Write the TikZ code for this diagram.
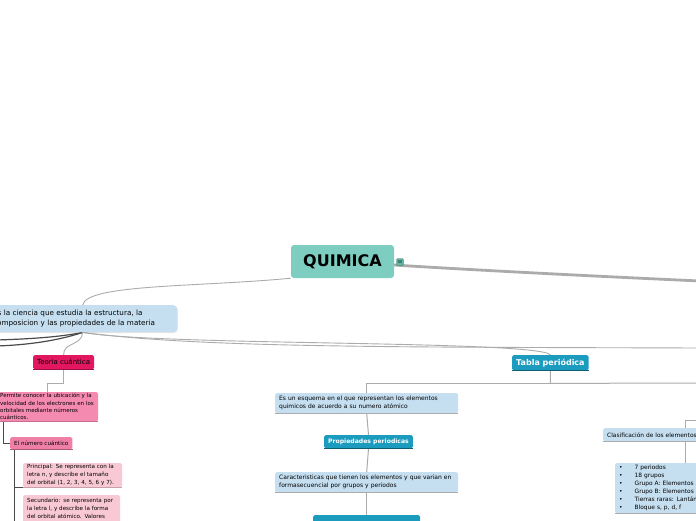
\documentclass[tikz,border=0pt]{standalone}
\usepackage{fontspec}
\setmainfont{DejaVu Sans}
\usepackage{tikz}
\usetikzlibrary{positioning,backgrounds,shadows}

\definecolor{rootteal}{HTML}{7DCEC1}
\definecolor{notegreen}{HTML}{5FB8A8}
\definecolor{paleblue}{HTML}{C5DFF1}
\definecolor{crimson}{HTML}{E2175F}
\definecolor{pinkmid}{HTML}{F48AB0}
\definecolor{pinknum}{HTML}{F07FA8}
\definecolor{pinklight}{HTML}{F9C8D5}
\definecolor{tealblue}{HTML}{1B9CBF}
\definecolor{linegray}{HTML}{ABABAB}
\definecolor{linedark}{HTML}{4A4A4A}

\begin{document}
\begin{tikzpicture}[x=1pt, y=-1pt,
  rootbox/.style={rounded corners=3pt, fill=rootteal, font=\bfseries\fontsize{16}{18}\selectfont,
    minimum width=103pt, minimum height=33pt, inner sep=0pt},
  noteicon/.style={rounded corners=1pt, fill=notegreen, draw=notegreen!60!black, line width=0.3pt,
    minimum size=7pt, inner sep=0pt, font=\fontsize{6}{6}\selectfont},
  underline/.style={append after command={(\tikzlastnode.south west) edge[draw=#1, line width=0.8pt]
    (\tikzlastnode.south east)}},
  card/.style={anchor=north west, align=left, inner xsep=4pt, inner ysep=0pt,
    rounded corners=1.5pt},
  defbox/.style={card, fill=paleblue, rounded corners=4pt, font=\fontsize{7.2}{10.5}\selectfont,
    drop shadow={opacity=0.2, shadow xshift=0.6pt, shadow yshift=-0.8pt}},
  bluecard/.style={card, fill=paleblue, underline=linegray, font=\fontsize{6}{8.2}\selectfont},
  tealtag/.style={card, fill=tealblue, text=white, underline=tealblue!60!black, align=center},
  pinktag/.style={card, align=center, underline=#1!70!black, fill=#1},
  pinkcard/.style={card, fill=#1, underline=#1!80!black, font=\fontsize{5.5}{7.4}\selectfont},
  thickedge/.style={draw=linegray, line width=2.8pt, line cap=round},
  softedge/.style={draw=linegray, line width=0.9pt},
  darkedge/.style={draw=linedark, line width=1.2pt},
  treeedge/.style={draw=linegray, line width=1pt}
]
\useasboundingbox (0,0) rectangle (696,520);
\clip (0,0) rectangle (696,520);

% main topic
\node[rootbox] (quimica) at (342.5,261.5) {QUIMICA};
\node[noteicon] (note) at (400,262) {$\equiv$};

% definition
\node[defbox, minimum width=189pt, minimum height=27pt, text width=179pt] (def) at (-12,305)
  {Es la ciencia que estudia la estructura, la\\composicion y las propiedades de la materia};

% quantum branch
\node[pinktag=crimson, minimum width=60pt, minimum height=14pt, font=\fontsize{7}{8}\selectfont]
  (teoria) at (33,355) {Teoria cuántica};
\node[pinkcard=pinkmid, minimum width=102pt, minimum height=29pt, text width=94pt] (permite) at (-4,392)
  {Permite conocer la ubicación y la\\velocidad de los electrones en los\\orbitales mediante números\\cuánticos.};
\node[pinktag=pinknum, minimum width=61pt, minimum height=12pt, font=\fontsize{5.6}{6.5}\selectfont]
  (numero) at (10,437) {El número cuántico};
\node[pinkcard=pinklight, minimum width=95pt, minimum height=24pt, text width=91pt,
  font=\fontsize{5.6}{8}\selectfont] (principal) at (23,463)
  {Principal: Se representa con la\\letra n, y describe el tamaño\\del orbital (1, 2, 3, 4, 5, 6 y 7).};
\node[pinkcard=pinklight, minimum width=93pt, minimum height=34pt, text width=89pt, inner ysep=3pt,
  font=\fontsize{5.6}{8}\selectfont] (secundario) at (23,495)
  {Secundario: se representa por\\la letra l, y describe la forma\\del orbital atómico. Valores\\de l: 0 (s), 1 (p), 2 (d) y 3 (f).};

% periodic table branch
\node[tealtag, minimum width=76pt, minimum height=15pt, font=\bfseries\fontsize{8}{9}\selectfont]
  (tabla) at (512,355) {Tabla periódica};
\node[bluecard, minimum width=183pt, minimum height=20pt, text width=175pt] (esquema) at (275,393)
  {Es un esquema en el que representan los elementos\\quimicos de acuerdo a su numero atómico};
\node[tealtag, minimum width=86pt, minimum height=13pt, font=\bfseries\fontsize{6.1}{7}\selectfont]
  (propiedades) at (324,435) {Propiedades periodicas};
\node[bluecard, minimum width=183pt, minimum height=20pt, text width=175pt] (caract) at (275,472)
  {Caracteristicas que tienen los elementos y que varian en\\formasecuencial por grupos y periodos};
\node[tealtag, minimum width=107pt, minimum height=15pt] (siguiente) at (313,515) {};
\node[bluecard, minimum width=120pt, minimum height=13pt, text width=112pt, font=\fontsize{5.9}{7}\selectfont]
  (clasif) at (603,428) {Clasificación de los elementos};
\node[bluecard, minimum width=150pt, minimum height=50pt, text width=142pt, font=\fontsize{5.9}{8}\selectfont]
  (bloques) at (615,463)
  {•\hspace{12pt}7 periodos\\•\hspace{12pt}18 grupos\\•\hspace{12pt}Grupo A: Elementos representativos\\
   •\hspace{12pt}Grupo B: Elementos de transición\\•\hspace{12pt}Tierras raras: Lantánidos y actínidos\\
   •\hspace{12pt}Bloque s, p, d, f};

\coordinate (rootout) at (700,281);
\coordinate (leftout1) at (-4,340);
\coordinate (leftout2) at (-4,346);
\coordinate (rightout) at (700,348);
\coordinate (tablaout) at (700,383);
\coordinate (clasifout) at (700,420);

\begin{pgfonlayer}{background}
\draw[thickedge] (quimica.center) .. controls (430,268) and (590,276) .. (rootout);
\draw[softedge] (quimica.south west) .. controls (200,287) and (86,284) .. (def.north);
\draw[darkedge] (def.south) .. controls (60,337) and (30,339) .. (leftout1);
\draw[darkedge] (def.south) .. controls (60,340) and (30,345) .. (leftout2);
\draw[softedge] (def.south) .. controls (82,346) and (63,342) .. (teoria.north);
\draw[softedge] (def.south) .. controls (160,346) and (540,340) .. (tabla.north);
\draw[softedge] (def.south) .. controls (200,348) and (400,347) .. (rightout);
\draw[treeedge] (teoria.south) -- ++(0,14) -| (permite.north);
\draw[darkedge, line width=0.8pt] ([xshift=7pt]permite.south west) |- (numero.west);
\draw[darkedge, line width=0.8pt] ([xshift=4pt]numero.south west) |- (principal.south west);
\draw[darkedge, line width=0.8pt] ([xshift=4pt]numero.south west) -- ++(0,90);
\draw[treeedge] (tabla.south) -- ++(0,13) -| (esquema.north);
\draw[treeedge] (tabla.south) -- ++(0,13) -- (tablaout);
\draw[treeedge] (esquema.south) -- (propiedades.north);
\draw[treeedge] (propiedades.south) -- (caract.north);
\draw[treeedge] (caract.south) -- (siguiente.north);
\draw[treeedge] (clasifout) -| ([xshift=82pt]clasif.north west);
\draw[treeedge] ([xshift=82pt]clasif.south west) -- ([xshift=70pt]bloques.north west);
\end{pgfonlayer}

\end{tikzpicture}
\end{document}
